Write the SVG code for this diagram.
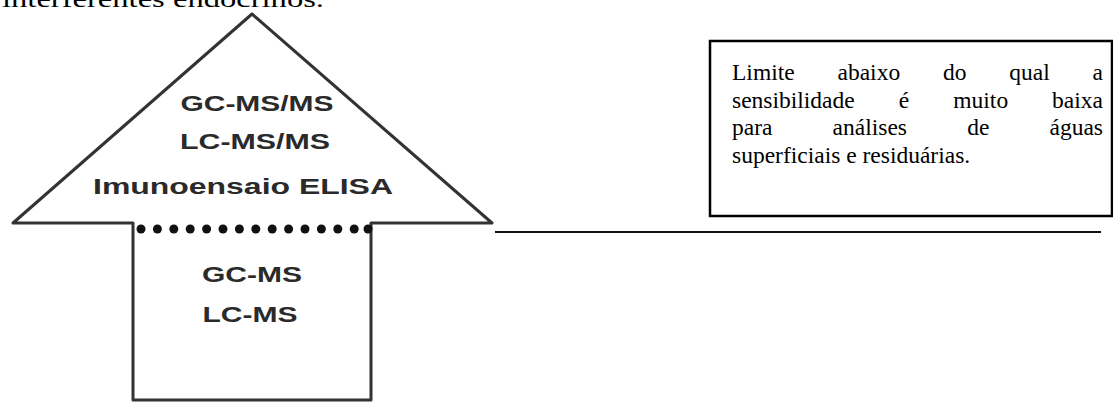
<svg xmlns="http://www.w3.org/2000/svg" width="1113" height="403" viewBox="0 0 1113 403">
<style>
.ser{font-family:"Liberation Serif","Times New Roman",serif;font-size:23.5px;fill:#000}
.lab{font-family:"Liberation Sans",Arial,sans-serif;font-size:22px;font-weight:bold;fill:#2a2a2a;text-anchor:middle}
.edge{fill:none;stroke:#333;stroke-width:3;stroke-linejoin:round}
</style>
<rect width="1113" height="403" fill="#fff"/>
<text class="ser" x="2" y="7" font-size="32" textLength="322" lengthAdjust="spacingAndGlyphs">interferentes endócrinos.</text>
<g id="arrow">
<polyline class="edge" points="133,225 133,223 13,223 252,14 492,223 371,223 371,225"/>
<polyline class="edge" points="133,225 133,400 371,400 371,225"/>
<g id="dots" fill="#111">
<circle cx="141" cy="229" r="4.5"/><circle cx="157.4" cy="229" r="4.5"/><circle cx="173.8" cy="229" r="4.5"/><circle cx="190.2" cy="229" r="4.5"/><circle cx="206.6" cy="229" r="4.5"/><circle cx="223" cy="229" r="4.5"/><circle cx="239.4" cy="229" r="4.5"/><circle cx="255.8" cy="229" r="4.5"/><circle cx="272.2" cy="229" r="4.5"/><circle cx="288.6" cy="229" r="4.5"/><circle cx="305" cy="229" r="4.5"/><circle cx="321.4" cy="229" r="4.5"/><circle cx="337.8" cy="229" r="4.5"/><circle cx="354.2" cy="229" r="4.5"/><circle cx="368" cy="229" r="4.5"/>
</g>
<text class="lab" x="257" y="111" textLength="153" lengthAdjust="spacingAndGlyphs">GC-MS/MS</text>
<text class="lab" x="255" y="149" textLength="150" lengthAdjust="spacingAndGlyphs">LC-MS/MS</text>
<text class="lab" x="243" y="194" textLength="300" lengthAdjust="spacingAndGlyphs">Imunoensaio ELISA</text>
<text class="lab" x="252" y="282" textLength="100" lengthAdjust="spacingAndGlyphs">GC-MS</text>
<text class="lab" x="250" y="322" textLength="95" lengthAdjust="spacingAndGlyphs">LC-MS</text>
</g>
<g id="note">
<rect x="710" y="41" width="402" height="175" fill="none" stroke="#000" stroke-width="2.5"/>
<text class="ser" y="80"><tspan x="732">Limite</tspan><tspan x="837.5">abaixo</tspan><tspan x="943">do</tspan><tspan x="1009.3">qual</tspan><tspan x="1103" text-anchor="end">a</tspan></text>
<text class="ser" y="107.5"><tspan x="732">sensibilidade</tspan><tspan x="898.8">é</tspan><tspan x="953.3">muito</tspan><tspan x="1103" text-anchor="end">baixa</tspan></text>
<text class="ser" y="135"><tspan x="732">para</tspan><tspan x="832.6">análises</tspan><tspan x="967.2">de</tspan><tspan x="1103" text-anchor="end">águas</tspan></text>
<text class="ser" y="162.5" x="732">superficiais e residuárias.</text>
</g>
<g id="connectors">
<line x1="495" y1="232" x2="1101" y2="232" stroke="#111" stroke-width="2"/>
</g>
</svg>
